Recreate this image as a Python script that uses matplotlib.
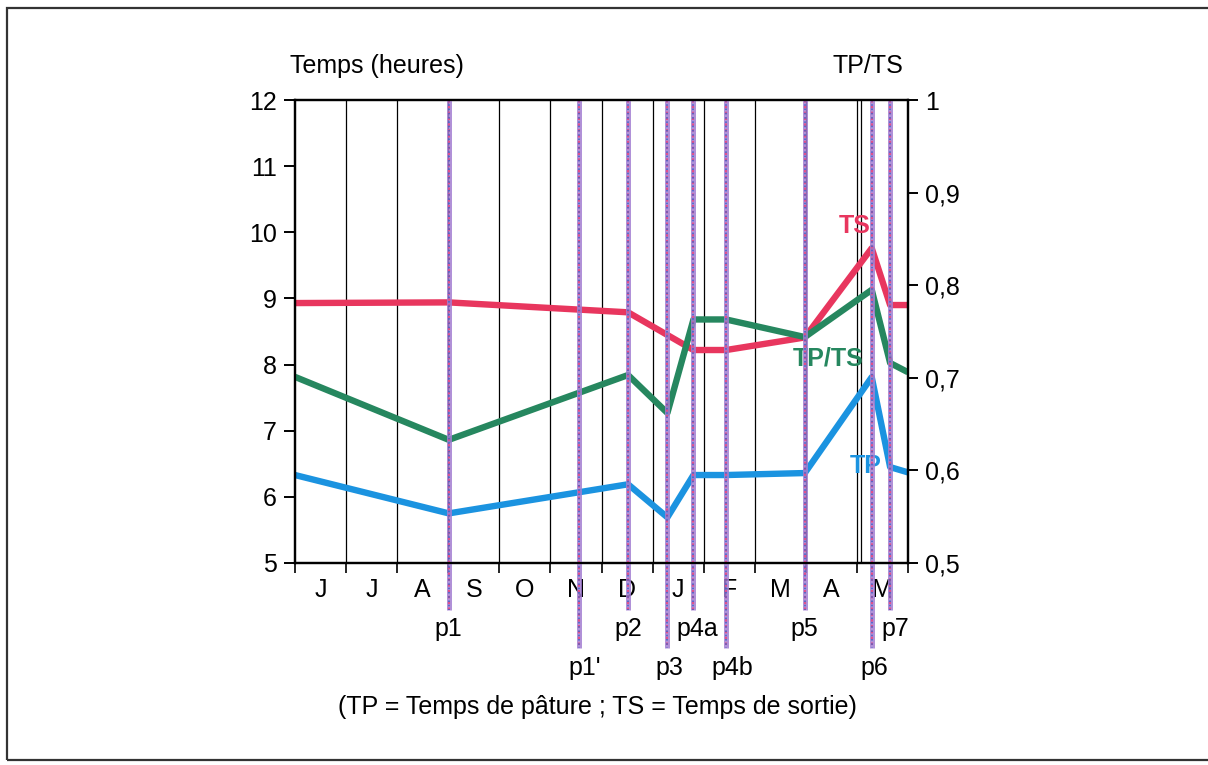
import numpy as np
import matplotlib.pyplot as plt
from matplotlib.patches import Rectangle

plt.rcParams['font.family'] = ['Liberation Sans', 'DejaVu Sans']

# mois (juin -> mai)
months = ['J', 'J', 'A', 'S', 'O', 'N', 'D', 'J', 'F', 'M', 'A', 'M']

# périodes de mesure (position en mois depuis début juin)
periods = ['p1', "p1'", 'p2', 'p3', 'p4a', 'p4b', 'p5', 'p6', 'p7']
period_x = [3.01, 5.56, 6.52, 7.29, 7.80, 8.44, 9.98, 11.29, 11.65]
period_long = [False, True, False, True, False, True, False, True, False]

# TS : temps de sortie (heures)
ts_x = [0, 3.01, 6.52, 7.80, 8.44, 9.98, 11.29, 11.65, 12.0]
ts_y = [8.93, 8.94, 8.79, 8.22, 8.22, 8.41, 9.76, 8.90, 8.90]

# TP : temps de pâture (heures)
tp_x = [0, 3.01, 6.52, 7.29, 7.80, 8.44, 9.98, 11.29, 11.65, 12.0]
tp_y = [6.33, 5.75, 6.19, 5.69, 6.33, 6.33, 6.36, 7.81, 6.45, 6.37]

# TP/TS (axe de droite)
ratio_x = [0, 3.01, 6.52, 7.29, 7.80, 8.44, 9.98, 11.29, 11.65, 12.0]
ratio_y = [0.701, 0.633, 0.703, 0.662, 0.763, 0.763, 0.744, 0.795, 0.716, 0.706]

red = '#e8365e'
green = '#26875f'
blue = '#1b93e0'
fs = 18

fig = plt.figure(figsize=(12.08, 7.65), dpi=100)
W, H = 1208, 765
ax = fig.add_axes([295 / W, (H - 563) / H, 613 / W, 463 / H])
ax2 = ax.twinx()

ax.set_xlim(0, 12)
ax.set_ylim(5, 12)
ax2.set_ylim(0.5, 1)

for a in (ax, ax2):
    for s in a.spines.values():
        s.set_linewidth(1.6)
        s.set_zorder(6)

# axe gauche
ax.set_yticks(range(5, 13))
ax.set_yticklabels([str(v) for v in range(5, 13)], fontsize=fs)
ax.tick_params(axis='y', direction='out', length=8, width=1.4, pad=5)
ax.set_xticks(range(0, 13))
ax.set_xticklabels([])
ax.tick_params(axis='x', direction='out', length=7, width=1.2)

# axe droit
r_ticks = [0.5, 0.6, 0.7, 0.8, 0.9, 1.0]
ax2.set_yticks(r_ticks)
ax2.set_yticklabels(['1' if v == 1.0 else f"{v:.1f}".replace('.', ',') for v in r_ticks],
                    fontsize=fs)
ax2.tick_params(axis='y', direction='out', length=7.5, width=1.4, pad=5)

# lignes verticales des mois
for xv in list(range(1, 12)) + [11.08]:
    ax.axvline(xv, color='black', lw=0.9, zorder=1)

trans = ax.get_xaxis_transform()
for i, m in enumerate(months):
    ax.text(i + 0.5, -0.058, m, transform=trans, ha='center', va='center', fontsize=fs)

# courbes
ax.plot(ts_x, ts_y, color=red, lw=4.6, solid_capstyle='butt', zorder=3)
ax.plot(tp_x, tp_y, color=blue, lw=4.6, solid_capstyle='butt', zorder=3)
ax2.plot(ratio_x, ratio_y, color=green, lw=4.6, solid_capstyle='butt', zorder=3)

# étiquettes des courbes (x en mois)
ax2.text(10.96, 0.864, 'TS', color=red, fontsize=fs,
         fontweight='bold', ha='center', va='center', zorder=4)
ax2.text(10.44, 0.721, 'TP/TS', color=green, fontsize=fs,
         fontweight='bold', ha='center', va='center', zorder=4)
ax2.text(11.17, 0.605, 'TP', color=blue, fontsize=fs,
         fontweight='bold', ha='center', va='center', zorder=4)

# périodes
trans2 = ax2.get_xaxis_transform()
label_dx = [0, 0.12, 0, 0.04, 0.08, 0.12, 0, 0.06, 0.1]
for px, name, lg, dx in zip(period_x, periods, period_long, label_dx):
    ybot = -0.184 if lg else -0.102
    ylab = -0.227 if lg else -0.143
    ax2.plot([px, px], [1, ybot], transform=trans2, color='#a27ed2', lw=3.6,
             alpha=0.85, clip_on=False, zorder=5, solid_capstyle='butt')
    ax2.plot([px, px], [1, ybot], transform=trans2, color='#e0508c', lw=1.5,
             dashes=(1.2, 1.6), clip_on=False, zorder=5)
    ax2.plot([px, px], [1, ybot], transform=trans2, color='#3f62c8', lw=1.1,
             dashes=(1.0, 1.8), dash_capstyle='butt', clip_on=False, zorder=5)
    ax2.text(px + dx, ylab, name, transform=trans2, ha='center', va='center',
             fontsize=fs, zorder=6)

fig.text(290 / W, 1 - 66 / H, 'Temps (heures)', ha='left', va='center', fontsize=fs)
fig.text(868 / W, 1 - 66 / H, 'TP/TS', ha='center', va='center', fontsize=fs)
fig.text(597 / W, 1 - 707 / H, '(TP = Temps de pâture ; TS = Temps de sortie)',
         ha='center', va='center', fontsize=fs)

# cadre
fig.add_artist(Rectangle((7 / W, (H - 760) / H), 1.05, 752 / H, transform=fig.transFigure,
                         fill=False, edgecolor='#333333', lw=1.6))

fig.savefig('out.png', dpi=100)
